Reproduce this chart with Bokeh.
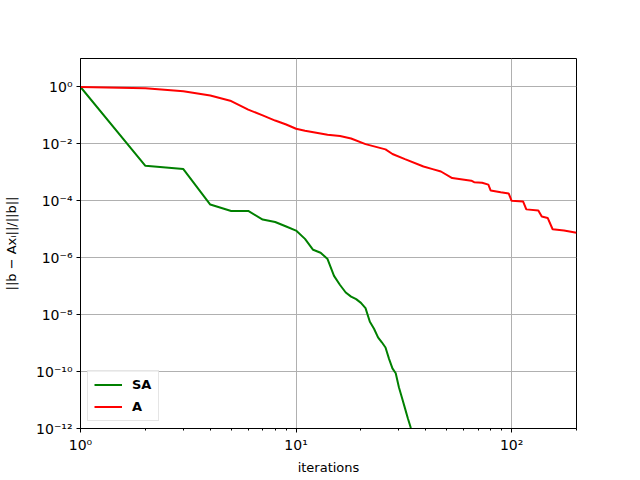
from bokeh.plotting import figure
from bokeh.models import Range1d, FixedTicker, CustomJSTickFormatter, Legend, LegendItem
from bokeh.embed import file_html
from bokeh.resources import INLINE

# SA series
sa_iter = [1, 2, 3, 4, 5, 6, 7, 8, 9, 10, 11, 12, 13, 14, 15, 16, 17, 18, 19, 20,
           21, 22, 23, 24, 25, 26, 27, 28, 29, 30, 31, 32, 33, 34, 35]
sa_res = [1.0, 1.7e-3, 1.3e-3, 7.4e-5, 4.4e-5, 4.4e-5, 2.2e-5, 1.8e-5, 1.25e-5, 9e-6,
          4.6e-6, 1.9e-6, 1.5e-6, 9e-7, 2.3e-7, 1.1e-7, 6e-8, 4.3e-8, 3.5e-8, 2.6e-8,
          1.7e-8, 5.6e-9, 3.2e-9, 1.6e-9, 1.07e-9, 7e-10, 2.8e-10, 1.3e-10, 8.7e-11, 2.8e-11,
          1.2e-11, 5.2e-12, 2.3e-12, 1.1e-12, 5.9e-13]

# A series
a_iter = [1, 2, 3, 4, 5, 6, 7, 8, 9, 10, 11, 14, 16, 18, 21, 26, 28, 32, 39, 43, 47,
          53, 65, 67, 73, 78, 80, 89, 97, 100, 113, 117, 133, 138, 147, 155, 175, 200]
a_res = [1.0, 0.9, 0.71, 0.5, 0.32, 0.16, 0.1, 0.066, 0.048, 0.034, 0.029,
         0.021, 0.019, 0.0155, 0.0098, 0.0064, 0.0044, 0.0029, 0.0016, 0.0013, 0.00107,
         0.00063, 0.00051, 0.00045, 0.00043, 0.00037, 0.00023, 0.0002, 0.00018, 0.0001,
         0.000095, 0.00005, 0.000046, 0.000028, 0.000025, 0.00001, 0.0000091, 0.0000076]

x_major = [1, 10, 100]
x_minor = [2, 3, 4, 5, 6, 7, 8, 9, 20, 30, 40, 50, 60, 70, 80, 90, 200]
y_major = [1e-12, 1e-10, 1e-8, 1e-6, 1e-4, 1e-2, 1e0]

FONT = "DejaVu Sans"

p = figure(x_axis_type="log", y_axis_type="log",
           x_range=Range1d(1, 200), y_range=Range1d(1e-12, 10),
           frame_width=496, frame_height=370,
           min_border_left=80, min_border_right=60, min_border_top=58, min_border_bottom=48,
           output_backend="svg", toolbar_location=None)

l1 = p.line(sa_iter, sa_res, line_color="green", line_width=2)
l2 = p.line(a_iter, a_res, line_color="red", line_width=2)

p.xaxis.ticker = FixedTicker(ticks=x_major, minor_ticks=x_minor)
p.yaxis.ticker = FixedTicker(ticks=y_major, minor_ticks=[])

fmt_code = """
const sup = {'-':'\u207b','0':'\u2070','1':'\u00b9','2':'\u00b2','3':'\u00b3','4':'\u2074',
             '5':'\u2075','6':'\u2076','7':'\u2077','8':'\u2078','9':'\u2079'};
const e = Math.round(Math.log10(tick));
return '10' + String(e).split('').map(c => sup[c]).join('');
"""
for ax in (p.xaxis[0], p.yaxis[0]):
    ax.formatter = CustomJSTickFormatter(code=fmt_code)
    ax.major_label_text_font = FONT
    ax.major_label_text_font_size = "14px"
    ax.major_label_text_color = "black"
    ax.axis_label_text_font = FONT
    ax.axis_label_text_font_size = "13px"
    ax.axis_label_text_font_style = "normal"
    ax.axis_label_text_color = "black"
    ax.axis_line_color = "black"
    ax.major_tick_line_color = "black"
    ax.minor_tick_line_color = "black"
    ax.major_tick_in = 0
    ax.major_tick_out = 4
    ax.minor_tick_in = 0
    ax.minor_tick_out = 2
    ax.major_label_standoff = 4

p.xaxis.axis_label = "iterations"
p.yaxis.axis_label = "||b \u2212 Ax\u1d62||/||b||"
p.xaxis.axis_label_standoff = 4
p.yaxis.axis_label_standoff = 14

p.xgrid.grid_line_color = "#b0b0b0"
p.ygrid.grid_line_color = "#b0b0b0"
p.xgrid.grid_line_width = 1
p.ygrid.grid_line_width = 1

p.outline_line_color = "black"
p.outline_line_width = 1
p.outline_line_alpha = 1

legend = Legend(items=[LegendItem(label="SA", renderers=[l1]),
                       LegendItem(label="A", renderers=[l2])],
                location="bottom_left")
legend.margin = 7
legend.padding = 6
legend.spacing = 7
legend.glyph_width = 28
legend.glyph_height = 13
legend.label_height = 13
legend.label_standoff = 10
legend.label_text_font = FONT
legend.label_text_font_size = "13px"
legend.label_text_font_style = "bold"
legend.label_text_color = "black"
legend.border_line_color = "#cccccc"
legend.background_fill_alpha = 0.8
p.add_layout(legend, "center")

open("out.html", "w").write(file_html(p, INLINE))
